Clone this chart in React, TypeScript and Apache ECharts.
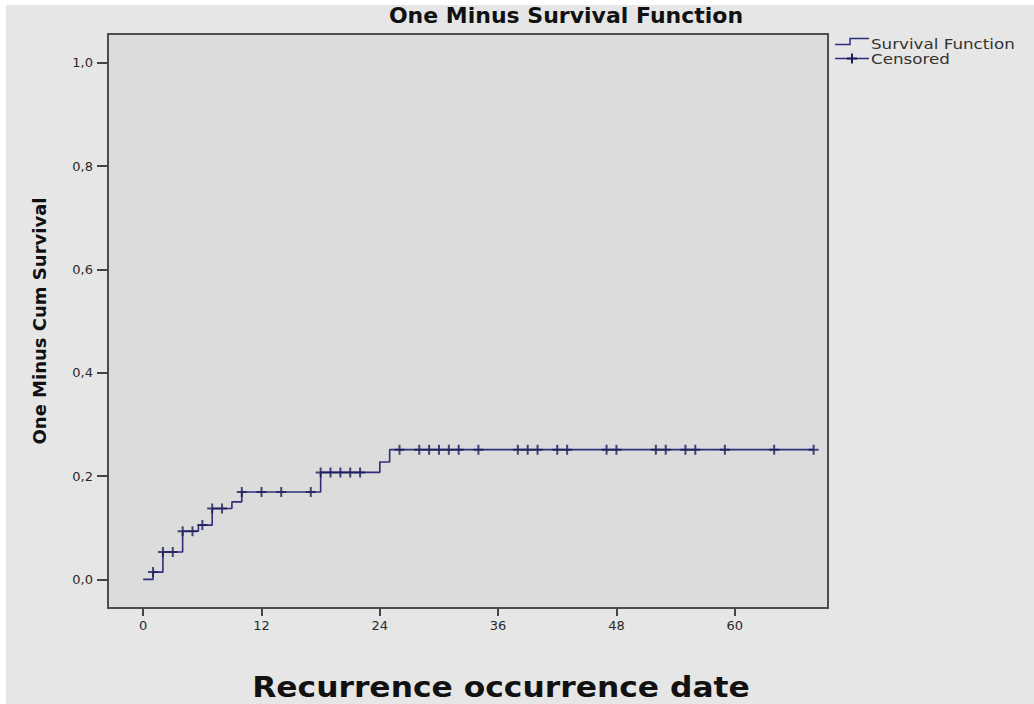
import React, { useEffect, useRef } from "react";
import * as echarts from "echarts";

// Kaplan-Meier step curve (one minus cumulative survival)
const eventTimes = [0, 1, 2, 4, 5.6, 7, 9, 10, 18, 24, 25, 68];
const cumValues = [0, 0.014, 0.053, 0.093, 0.105, 0.137, 0.15, 0.169, 0.207, 0.227, 0.251, 0.251];

// censoring times (months)
const censoredTimes = [
  1, 2, 3, 4, 5, 6, 7, 8, 10, 12, 14, 17, 18, 19, 20, 21, 22, 26, 28, 29, 30, 31, 32, 34,
  38, 39, 40, 42, 43, 47, 48, 52, 53, 55, 56, 59, 64, 68,
];

const xTicks = [0, 12, 24, 36, 48, 60];
const yTicks = [0, 0.2, 0.4, 0.6, 0.8, 1.0];

const titleText = "One Minus Survival Function";
const xTitle = "Recurrence occurrence date";
const yTitle = "One Minus Cum Survival";
const legendNames = ["Survival Function", "Censored"];

const LINE = "#2e2e7c";
const MARK = "#1d1d58";

function stepValueAt(t: number): number {
  let v = 0;
  for (let i = 0; i < eventTimes.length; i++) {
    if (eventTimes[i] <= t) v = cumValues[i];
  }
  return v;
}

const plusPath =
  "path://M0,4 L10,4 L10,6 L0,6 Z M4,0 L6,0 L6,10 L4,10 Z";

export default function App() {
  const ref = useRef<HTMLDivElement>(null);

  useEffect(() => {
    if (!ref.current) return;
    const chart = echarts.init(ref.current, undefined, { renderer: "svg" });

    const stepData = eventTimes.map((t, i) => [t, cumValues[i]]);
    const censData = censoredTimes.map((t) => [t, stepValueAt(t)]);

    chart.setOption({
      animation: false,
      backgroundColor: "#e6e6e6",
      grid: {
        left: 108,
        top: 34,
        width: 720,
        height: 574,
        show: true,
        backgroundColor: "#dcdcdc",
        borderColor: "#4d4d4d",
        borderWidth: 2,
      },
      xAxis: {
        type: "value",
        min: -3.57,
        max: 69.46,
        splitLine: { show: false },
        axisLine: { show: true, onZero: false, lineStyle: { color: "#4d4d4d", width: 2 } },
        axisTick: {
          show: true,
          length: 8,
          customValues: xTicks,
          lineStyle: { color: "#444", width: 2 },
        },
        axisLabel: {
          customValues: xTicks,
          margin: 11,
          color: "#2a2a2a",
          fontFamily: "DejaVu Sans",
          fontSize: 13,
          formatter: (v: number) => String(v),
        },
      },
      yAxis: {
        type: "value",
        min: -0.0555,
        max: 1.0557,
        splitLine: { show: false },
        axisLine: { show: true, onZero: false, lineStyle: { color: "#4d4d4d", width: 2 } },
        axisTick: {
          show: true,
          length: 11,
          customValues: yTicks,
          lineStyle: { color: "#444", width: 2 },
        },
        axisLabel: {
          customValues: yTicks,
          margin: 15,
          color: "#2a2a2a",
          fontFamily: "DejaVu Sans",
          fontSize: 13,
          formatter: (v: number) => v.toFixed(1).replace(".", ","),
        },
        name: yTitle,
        nameLocation: "middle",
        nameRotate: 90,
        nameGap: 60,
        nameTextStyle: {
          fontFamily: "DejaVu Sans",
          fontWeight: "bold",
          fontSize: 18,
          color: "#111",
        },
      },
      series: [
        {
          name: legendNames[0],
          type: "line",
          step: "end",
          data: stepData,
          showSymbol: false,
          symbol: "none",
          lineStyle: { color: LINE, width: 1.6 },
          z: 2,
        },
        {
          name: legendNames[1],
          type: "scatter",
          data: censData,
          symbol: plusPath,
          symbolSize: [10, 10],
          itemStyle: { color: MARK },
          z: 3,
        },
      ],
      graphic: [
        { type: "rect", shape: { x: 0, y: 0, width: 1034, height: 5 }, style: { fill: "#ffffff" }, silent: true },
        { type: "rect", shape: { x: 0, y: 0, width: 6, height: 704 }, style: { fill: "#ffffff" }, silent: true },
        {
          type: "text",
          x: 566,
          y: 15,
          style: {
            text: titleText,
            fontFamily: "DejaVu Sans",
            fontWeight: "bold",
            fontSize: 22,
            fill: "#111",
            align: "center",
            verticalAlign: "middle",
          },
        },
        {
          type: "text",
          x: 501,
          y: 687,
          scaleX: 1.12,
          style: {
            text: xTitle,
            fontFamily: "DejaVu Sans",
            fontWeight: "bold",
            fontSize: 28,
            fill: "#111",
            align: "center",
            verticalAlign: "middle",
          },
        },
        // legend
        {
          type: "polyline",
          shape: { points: [[835, 44.5], [850, 44.5], [850, 38.5], [869, 38.5]] },
          style: { stroke: LINE, lineWidth: 1.5, fill: null },
        },
        {
          type: "text",
          x: 871,
          y: 45,
          scaleX: 1.24,
          style: {
            text: legendNames[0],
            fontFamily: "DejaVu Sans",
            fontSize: 13.5,
            fill: "#333",
            align: "left",
            verticalAlign: "middle",
          },
        },
        {
          type: "line",
          shape: { x1: 835, y1: 58.5, x2: 869, y2: 58.5 },
          style: { stroke: LINE, lineWidth: 1.5 },
        },
        {
          type: "line",
          shape: { x1: 847, y1: 58.5, x2: 857, y2: 58.5 },
          style: { stroke: MARK, lineWidth: 2 },
        },
        {
          type: "line",
          shape: { x1: 852, y1: 53.5, x2: 852, y2: 63.5 },
          style: { stroke: MARK, lineWidth: 2 },
        },
        {
          type: "text",
          x: 871,
          y: 59.5,
          scaleX: 1.24,
          style: {
            text: legendNames[1],
            fontFamily: "DejaVu Sans",
            fontSize: 13.5,
            fill: "#333",
            align: "left",
            verticalAlign: "middle",
          },
        },
      ],
    });

    return () => chart.dispose();
  }, []);

  return (
    <div
      ref={ref}
      style={{ position: "absolute", left: 0, top: 0, width: 1034, height: 704 }}
    />
  );
}
